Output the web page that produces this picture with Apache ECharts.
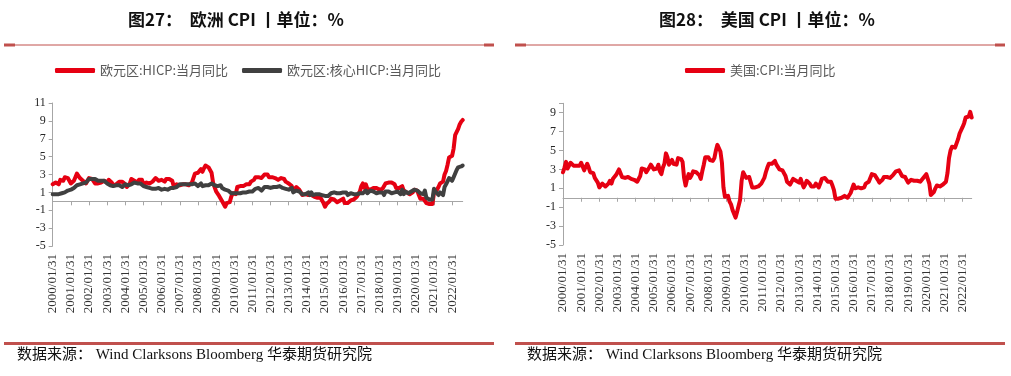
<!DOCTYPE html>
<html>
<head>
<meta charset="utf-8">
<script src="https://cdn.jsdelivr.net/npm/echarts@6/dist/echarts.min.js"></script>
<style>
  html, body { margin: 0; padding: 0; background: #fff; }
  #chart { width: 1011px; height: 376px; }
</style>
</head>
<body>
<div id="chart"></div>
<script>
  // 欧元区 HICP 当月同比 2000/01 - 2022/08
  const hicp = [
    1.9, 2.0, 2.1, 1.9, 1.9, 2.4, 2.3, 2.3, 2.7, 2.6, 2.6, 2.5,
    2.0, 2.0, 2.3, 2.7, 3.1, 2.9, 2.6, 2.4, 2.3, 2.3, 2.0, 2.1,
    2.6, 2.4, 2.5, 2.4, 2.0, 1.9, 2.0, 2.1, 2.1, 2.3, 2.3, 2.3,
    2.1, 2.4, 2.5, 2.1, 1.8, 1.9, 1.9, 2.1, 2.2, 2.0, 2.2, 2.0,
    1.9, 1.6, 1.7, 2.0, 2.5, 2.4, 2.3, 2.3, 2.1, 2.4, 2.2, 2.4,
    1.9, 2.1, 2.1, 2.1, 2.0, 2.1, 2.2, 2.2, 2.6, 2.5, 2.3, 2.2,
    2.4, 2.3, 2.2, 2.5, 2.5, 2.5, 2.4, 2.3, 1.7, 1.6, 1.9, 1.9,
    1.8, 1.8, 1.9, 1.9, 1.9, 1.9, 1.8, 1.7, 2.1, 2.6, 3.1, 3.1,
    3.2, 3.3, 3.6, 3.3, 3.7, 4.0, 4.0, 3.8, 3.6, 3.2, 2.1, 1.6,
    1.1, 1.2, 0.6, 0.6, 0.0, -0.1, -0.6, -0.2, -0.3, -0.1, 0.5, 0.9,
    1.0, 0.8, 1.6, 1.6, 1.7, 1.5, 1.7, 1.6, 1.9, 1.9, 1.9, 2.2,
    2.3, 2.4, 2.7, 2.8, 2.7, 2.7, 2.6, 2.6, 3.0, 3.0, 3.0, 2.7,
    2.7, 2.7, 2.7, 2.6, 2.4, 2.4, 2.4, 2.6, 2.6, 2.5, 2.2, 2.2,
    2.0, 1.8, 1.7, 1.2, 1.4, 1.6, 1.6, 1.3, 1.1, 0.7, 0.9, 0.8,
    0.8, 0.7, 0.5, 0.7, 0.5, 0.5, 0.4, 0.4, 0.3, 0.4, 0.3, -0.2,
    -0.6, -0.3, -0.1, 0.0, 0.3, 0.2, 0.2, 0.1, -0.1, 0.1, 0.1, 0.2,
    0.3, -0.2, 0.0, -0.2, -0.1, 0.1, 0.2, 0.2, 0.4, 0.5, 0.6, 1.1,
    1.7, 2.0, 1.5, 1.9, 1.4, 1.3, 1.3, 1.5, 1.5, 1.4, 1.5, 1.3,
    1.3, 1.1, 1.4, 1.2, 2.0, 2.0, 2.1, 2.0, 2.1, 2.3, 1.9, 1.5,
    1.4, 1.5, 1.4, 1.7, 1.2, 1.3, 1.0, 1.0, 0.8, 0.7, 1.0, 1.3,
    1.4, 1.2, 0.7, 0.3, 0.1, 0.3, 0.4, -0.2, -0.3, -0.3, -0.3, -0.3,
    0.9, 0.9, 1.3, 1.6, 2.0, 1.9, 2.2, 3.0, 3.4, 4.1, 4.9, 5.0,
    5.1, 5.9, 7.4, 7.4, 8.1, 8.6, 8.9, 9.1
  ]

  // 欧元区 核心HICP 当月同比 2000/01 - 2022/08
  const coreHicp = [
    0.8, 0.8, 0.8, 0.9, 0.8, 0.9, 0.9, 1.0, 1.0, 1.1, 1.2, 1.2,
    1.3, 1.4, 1.5, 1.6, 1.8, 1.8, 1.9, 2.0, 2.0, 2.0, 2.1, 2.1,
    2.5, 2.5, 2.5, 2.6, 2.5, 2.5, 2.3, 2.4, 2.3, 2.3, 2.3, 2.3,
    2.0, 1.8, 1.8, 2.0, 1.7, 1.9, 1.8, 1.7, 1.8, 1.9, 1.6, 1.7,
    1.9, 1.9, 1.8, 2.0, 1.9, 1.9, 2.1, 1.9, 2.0, 1.9, 2.0, 1.9,
    1.7, 1.6, 1.6, 1.4, 1.5, 1.4, 1.4, 1.3, 1.4, 1.5, 1.5, 1.4,
    1.3, 1.3, 1.4, 1.5, 1.3, 1.5, 1.5, 1.4, 1.5, 1.5, 1.6, 1.6,
    1.9, 1.8, 1.9, 1.9, 1.9, 1.9, 1.9, 1.9, 1.9, 1.9, 2.0, 1.9,
    1.7, 1.8, 2.0, 1.7, 1.8, 1.8, 1.7, 1.8, 1.9, 2.0, 1.9, 1.8,
    1.6, 1.7, 1.5, 1.8, 1.5, 1.3, 1.3, 1.2, 1.2, 1.1, 0.9, 1.0,
    0.9, 0.8, 0.9, 0.7, 0.9, 0.9, 1.0, 1.0, 1.0, 1.1, 1.1, 1.1,
    1.1, 1.0, 1.4, 1.6, 1.5, 1.6, 1.2, 1.2, 1.6, 1.6, 1.6, 1.6,
    1.5, 1.5, 1.6, 1.6, 1.6, 1.6, 1.7, 1.7, 1.5, 1.5, 1.4, 1.5,
    1.3, 1.3, 1.5, 1.0, 1.2, 1.2, 1.1, 1.1, 1.0, 0.8, 0.9, 0.8,
    0.8, 1.0, 0.7, 1.0, 0.7, 0.8, 0.8, 0.9, 0.8, 0.7, 0.7, 0.7,
    0.6, 0.7, 0.6, 0.6, 0.9, 0.8, 1.0, 0.9, 0.9, 1.0, 0.9, 0.9,
    1.0, 0.8, 1.0, 0.7, 0.8, 0.9, 0.9, 0.8, 0.8, 0.8, 0.8, 0.9,
    0.9, 0.9, 0.7, 1.2, 0.9, 1.1, 1.2, 1.2, 1.1, 0.9, 0.9, 0.9,
    1.0, 1.0, 1.0, 0.7, 1.1, 0.9, 1.1, 1.0, 0.9, 1.1, 1.0, 1.0,
    1.1, 1.0, 0.8, 1.3, 0.8, 1.1, 0.9, 0.9, 1.0, 1.1, 1.3, 1.3,
    1.1, 1.2, 1.0, 0.9, 0.9, 0.8, 1.2, 0.4, 0.2, 0.2, 0.2, 0.2,
    1.4, 1.1, 0.9, 0.7, 1.0, 0.9, 0.7, 1.6, 1.9, 2.0, 2.6, 2.6,
    2.3, 2.7, 2.9, 3.5, 3.8, 3.7, 3.9, 4.0
  ]

  // 美国 CPI 当月同比 2000/01 - 2022/07
  const usCpi = [
    2.7, 3.2, 3.8, 3.1, 3.2, 3.7, 3.7, 3.4, 3.5, 3.4, 3.4, 3.4,
    3.7, 3.5, 2.9, 3.3, 3.6, 3.2, 2.7, 2.7, 2.6, 2.1, 1.9, 1.6,
    1.1, 1.1, 1.5, 1.6, 1.2, 1.1, 1.5, 1.8, 1.5, 2.0, 2.2, 2.4,
    2.6, 3.0, 3.0, 2.2, 2.1, 2.1, 2.1, 2.2, 2.3, 2.0, 1.8, 1.9,
    1.9, 1.7, 1.7, 2.3, 3.1, 3.3, 3.0, 2.7, 2.5, 3.2, 3.5, 3.3,
    3.0, 3.0, 3.1, 3.5, 2.8, 2.5, 3.2, 3.6, 4.7, 4.3, 3.5, 3.4,
    4.0, 3.6, 3.4, 3.5, 4.2, 4.3, 4.1, 3.8, 2.1, 1.3, 2.0, 2.5,
    2.1, 2.4, 2.8, 2.6, 2.7, 2.7, 2.4, 2.0, 2.8, 3.5, 4.3, 4.1,
    4.3, 4.0, 4.0, 3.9, 4.2, 5.0, 5.6, 5.4, 4.9, 3.7, 1.1, 0.1,
    0.0, 0.2, -0.4, -0.7, -1.3, -1.4, -2.1, -1.5, -1.3, -0.2, 1.8, 2.7,
    2.6, 2.1, 2.3, 2.2, 2.0, 1.1, 1.2, 1.1, 1.1, 1.2, 1.1, 1.5,
    1.6, 2.1, 2.7, 3.2, 3.6, 3.6, 3.6, 3.8, 3.9, 3.5, 3.4, 3.0,
    2.9, 2.9, 2.7, 2.3, 1.7, 1.7, 1.4, 1.7, 2.0, 2.2, 1.8, 1.7,
    1.6, 2.0, 1.5, 1.1, 1.4, 1.8, 2.0, 1.5, 1.2, 1.0, 1.2, 1.5,
    1.6, 1.1, 1.5, 2.0, 2.1, 2.1, 2.0, 1.7, 1.7, 1.7, 1.3, 0.8,
    -0.1, 0.0, -0.1, -0.2, 0.0, 0.1, 0.2, 0.2, 0.0, 0.2, 0.5, 0.7,
    1.4, 1.0, 0.9, 1.1, 1.0, 1.0, 0.8, 1.1, 1.5, 1.6, 1.7, 2.1,
    2.5, 2.7, 2.4, 2.2, 1.9, 1.6, 1.7, 1.9, 2.2, 2.0, 2.2, 2.1,
    2.1, 2.2, 2.4, 2.5, 2.8, 2.9, 2.9, 2.7, 2.3, 2.5, 2.2, 1.9,
    1.6, 1.5, 1.9, 2.0, 1.8, 1.6, 1.8, 1.7, 1.7, 1.8, 2.1, 2.3,
    2.5, 2.3, 1.5, 0.3, 0.1, 0.6, 1.0, 1.3, 1.4, 1.2, 1.2, 1.4,
    1.4, 1.7, 2.6, 4.2, 5.0, 5.4, 5.4, 5.3, 5.4, 6.2, 6.8, 7.0,
    7.5, 7.9, 8.5, 8.3, 8.6, 9.1, 8.5
  ]

  // 月末日期
  const monthEnds = (count) => {
    const out = []
    for (let i = 0; i < count; i++) {
      const y = 2000 + Math.floor(i / 12)
      const m = (i % 12) + 1
      const d = new Date(y, m, 0).getDate()
      out.push(y + '/' + String(m).padStart(2, '0') + '/' + String(d).padStart(2, '0'))
    }
    return out
  }
  const euDates = monthEnds(hicp.length)
  const usDates = monthEnds(usCpi.length)

  const RED = '#e60012'
  const GREY = '#404040'
  const AXIS = '#a6a6a6'
  const SERIF = "'Liberation Serif', 'Times New Roman', serif"
  const CJK = "'Noto Sans CJK SC', sans-serif"
  const RULE = '#c0504d'

  const zeroAxis = (gridIndex, data) => ({
    gridIndex,
    type: 'category',
    data,
    boundaryGap: false,
    axisLine: { onZero: true, lineStyle: { color: AXIS, width: 1 } },
    axisTick: { interval: 11, length: 4, lineStyle: { color: AXIS } },
    axisLabel: { show: false },
    splitLine: { show: false }
  })
  const labelAxis = (gridIndex, data) => ({
    gridIndex,
    type: 'category',
    data,
    position: 'bottom',
    boundaryGap: false,
    axisLine: { show: false, onZero: false },
    axisTick: { show: false },
    axisLabel: {
      interval: 11,
      rotate: 90,
      margin: 8,
      fontFamily: SERIF,
      fontSize: 13,
      color: '#333'
    },
    splitLine: { show: false }
  })
  const valueAxis = (gridIndex, max) => ({
    gridIndex,
    type: 'value',
    min: -5,
    max,
    interval: 2,
    axisLine: { show: true, lineStyle: { color: AXIS } },
    axisTick: { show: true, length: 4, lineStyle: { color: AXIS } },
    axisLabel: {
      margin: 7,
      fontFamily: SERIF,
      fontSize: 12,
      color: '#262626',
      formatter: (v) => (v > 9.5 && v < 10.5 ? '' : String(v))
    },
    splitLine: { show: false }
  })
  const lineSeries = (name, data, color, xAxisIndex, yAxisIndex) => ({
    name,
    type: 'line',
    data,
    xAxisIndex,
    yAxisIndex,
    symbol: 'none',
    smooth: false,
    animation: false,
    lineStyle: { color, width: 4, cap: 'round', join: 'round' },
    itemStyle: { color }
  })
  const legendStyle = {
    top: 64,
    padding: 0,
    icon: 'roundRect',
    itemWidth: 40,
    itemHeight: 5,
    itemGap: 14,
    textStyle: { fontFamily: CJK, fontSize: 13, color: '#595959' }
  }
  const rule = (x1, x2, y) => [
    { type: 'line', shape: { x1: x1 + 10, y1: y, x2: x2 - 10, y2: y }, style: { stroke: RULE, lineWidth: 1 } },
    { type: 'rect', shape: { x: x1, y: y - 1.5, width: 11, height: 3 }, style: { fill: RULE } },
    { type: 'rect', shape: { x: x2 - 10, y: y - 1.5, width: 10, height: 3 }, style: { fill: RULE } }
  ]
  const title = (x, text) => ({
    type: 'text', x, y: 20,
    style: { text, font: "bold 17px 'Noto Sans CJK SC', sans-serif", fill: '#111', align: 'center', verticalAlign: 'middle' }
  })
  const source = (x) => ({
    type: 'text', x, y: 355,
    style: {
      text: '数据来源： Wind Clarksons Bloomberg 华泰期货研究院',
      font: "15px 'Liberation Serif', 'Noto Sans CJK SC', serif",
      fill: '#111', verticalAlign: 'middle'
    }
  })

  const option = {
    backgroundColor: '#fff',
    animation: false,
    grid: [
      { left: 52.7, right: 548.3, top: 103, bottom: 130 },
      { left: 563, right: 39.3, top: 103.3, bottom: 131 }
    ],
    legend: [
      Object.assign({ left: 55, data: ['欧元区:HICP:当月同比', '欧元区:核心HICP:当月同比'] }, legendStyle),
      Object.assign({ left: 685, data: ['美国:CPI:当月同比'] }, legendStyle)
    ],
    xAxis: [
      zeroAxis(0, euDates),
      labelAxis(0, euDates),
      zeroAxis(1, usDates),
      labelAxis(1, usDates)
    ],
    yAxis: [valueAxis(0, 11), valueAxis(1, 10)],
    series: [
      lineSeries('欧元区:HICP:当月同比', hicp, RED, 0, 0),
      lineSeries('欧元区:核心HICP:当月同比', coreHicp, GREY, 0, 0),
      lineSeries('美国:CPI:当月同比', usCpi, RED, 2, 1)
    ],
    graphic: [
      title(236, '图27：  欧洲 CPI 丨单位：%'),
      title(767, '图28：  美国 CPI 丨单位：%'),
      ...rule(4, 494, 45),
      ...rule(515, 1005, 45),
      { type: 'rect', shape: { x: 4, y: 342, width: 490, height: 3 }, style: { fill: RULE } },
      { type: 'rect', shape: { x: 515, y: 342, width: 490, height: 3 }, style: { fill: RULE } },
      source(17),
      source(527)
    ]
  }

  const chart = echarts.init(document.getElementById('chart'), null, { renderer: 'canvas' })
  chart.setOption(option)
</script>
</body>
</html>
